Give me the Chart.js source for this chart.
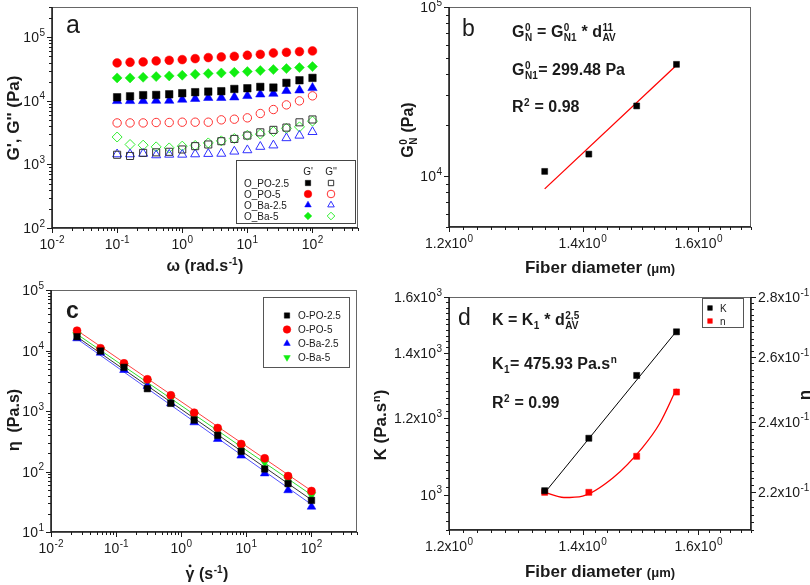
<!DOCTYPE html>
<html>
<head>
<meta charset="utf-8">
<title>Rheology of fiber suspensions</title>
<script src="https://cdn.jsdelivr.net/npm/chart.js@4.4.1/dist/chart.umd.min.js"></script>
<style>
  html, body { margin: 0; padding: 0; background: #fff; }
  #fig { position: relative; width: 810px; height: 585px; overflow: hidden; background: #fff; }
  #fig canvas { position: absolute; left: 0; top: 0; }
</style>
</head>
<body>
<div id="fig">
  <canvas id="panelA" width="810" height="585"></canvas>
  <canvas id="panelB" width="810" height="585"></canvas>
  <canvas id="panelC" width="810" height="585"></canvas>
  <canvas id="panelD" width="810" height="585"></canvas>
</div>
<script>
// ---- (a) frequency sweep, G' (filled) and G'' (open) ----
var omega = [0.1, 0.158, 0.251, 0.398, 0.631, 1, 1.58, 2.51, 3.98, 6.31, 10, 15.8, 25.1, 39.8, 63.1, 100];
var gStorePO25 = [11400, 11800, 12300, 12400, 12700, 13200, 13700, 14000, 14200, 15400, 15800, 16600, 16200, 19200, 21100, 23000];
var gStorePO5  = [39500, 40500, 41000, 42500, 43500, 44600, 46200, 48000, 49100, 50300, 52200, 54100, 56700, 58100, 59600, 61000];
var gStoreBa25 = [10000, 10000, 10000, 10100, 10100, 10500, 10800, 11200, 11200, 11400, 12000, 12700, 13000, 14400, 14700, 16000];
var gStoreBa5  = [23000, 23000, 23500, 24100, 24700, 25300, 26200, 26900, 27500, 28200, 28900, 30000, 31100, 32200, 33400, 34600];
var gLossPO25  = [1420, 1360, 1520, 1550, 1580, 1720, 1940, 2060, 2320, 2520, 2850, 3200, 3500, 3800, 4600, 5100];
var gLossPO5   = [4500, 4500, 4500, 4570, 4570, 4620, 4620, 4620, 5030, 5150, 5410, 6330, 7310, 8650, 10000, 12000];
var gLossBa25  = [1450, 1450, 1480, 1400, 1430, 1430, 1450, 1470, 1480, 1600, 1680, 1900, 2000, 2600, 2850, 3250];
var gLossBa5   = [2700, 2060, 2010, 1890, 1820, 1940, 1990, 2180, 2350, 2560, 2880, 3000, 3300, 3700, 3900, 4800];
var namesA = ['O_PO-2.5', 'O_PO-5', 'O_Ba-2.5', 'O_Ba-5'];

// ---- (b) plateau modulus vs fiber diameter ----
var fiberD = [1.34, 1.41, 1.49, 1.56];
var plateauG = [10660, 13490, 26000, 45800];
var plateauFitD = [1.34, 1.56];
var plateauFitG = [8400, 45300];

// ---- (c) viscosity curves ----
var shearRate = [0.0251, 0.0575, 0.132, 0.302, 0.692, 1.58, 3.63, 8.32, 19.1, 43.7, 100];
var etaPO25 = [16900, 9800, 5270, 2340, 1340, 710, 396, 215, 110, 63, 33.3];
var etaPO5  = [21300, 10900, 6140, 3340, 1820, 938, 523, 285, 165, 84, 47.6];
var etaBa25 = [15900, 9200, 4760, 2590, 1340, 650, 345, 183, 93, 49, 26.2];
var etaBa5  = [18000, 10200, 5550, 3050, 1620, 859, 467, 257, 142, 74, 41];
var etaFitRate = [0.0251, 100];
var etaFitPO25 = [16800, 34];
var etaFitPO5  = [21500, 48];
var etaFitBa25 = [15600, 28.5];
var etaFitBa5  = [18600, 41];
var namesC = ['O-PO-2.5', 'O-PO-5', 'O-Ba-2.5', 'O-Ba-5'];

// ---- (d) consistency K and flow index n ----
var consistK = [1010, 1144, 1328, 1473];
var flowN = [0.220, 0.220, 0.230, 0.249];
var kFitD = [1.34, 1.56];
var kFit = [1005, 1475];
var nFitD = [1.34, 1.37, 1.40, 1.45, 1.50, 1.53, 1.56];
var nFit = [0.2200, 0.2186, 0.2190, 0.2240, 0.2325, 0.2395, 0.2500];

// ---- tick values and labels ([base, superscript]) ----
var decadeTicks = [0.01, 0.1, 1, 10, 100];
var decadeLabels = [['10', '-2'], ['10', '-1'], ['10', '0'], ['10', '1'], ['10', '2']];
var modTicks = [100, 1000, 10000, 100000];
var modLabels = [['10', '2'], ['10', '3'], ['10', '4'], ['10', '5']];
var etaTicks = [10, 100, 1000, 10000, 100000];
var etaLabels = [['10', '1'], ['10', '2'], ['10', '3'], ['10', '4'], ['10', '5']];
var diamTicks = [1.2, 1.4, 1.6];
var diamLabels = [['1.2x10', '0'], ['1.4x10', '0'], ['1.6x10', '0']];
var plateauTicks = [10000, 100000];
var plateauLabels = [['10', '4'], ['10', '5']];
var kTicks = [1000, 1200, 1400, 1600];
var kLabels = [['10', '3'], ['1.2x10', '3'], ['1.4x10', '3'], ['1.6x10', '3']];
var nTicks = [0.22, 0.24, 0.26, 0.28];
var nLabels = [['2.2x10', '-1'], ['2.4x10', '-1'], ['2.6x10', '-1'], ['2.8x10', '-1']];

var FONT = 'Arial, "Liberation Sans", Helvetica, sans-serif';
var INK = '#1a1a1a';

function pts(xs, ys) {
  return xs.map(function (x, i) { return { x: x, y: ys[i] }; });
}

function markers(label, xs, ys, style, color, radius, open, rotation, axis) {
  return {
    label: label,
    data: pts(xs, ys),
    yAxisID: axis || 'y',
    showLine: false,
    pointStyle: style,
    pointRotation: rotation || 0,
    pointRadius: radius,
    pointBackgroundColor: open ? 'rgba(0,0,0,0)' : color,
    pointBorderColor: color,
    pointBorderWidth: open ? 1 : 0.5,
    backgroundColor: open ? 'rgba(0,0,0,0)' : color,
    borderColor: color,
    order: 1
  };
}

function fitLine(label, xs, ys, color, width, smooth, axis) {
  return {
    label: label,
    data: pts(xs, ys),
    yAxisID: axis || 'y',
    showLine: true,
    borderColor: color,
    borderWidth: width,
    pointRadius: 0,
    fill: false,
    tension: 0,
    cubicInterpolationMode: smooth ? 'monotone' : 'default',
    order: 2
  };
}

function logAxis(min, max, pos) {
  return { type: 'logarithmic', display: false, min: min, max: max, bounds: 'data', position: pos };
}

function logMinors(lo, hi) {
  var out = [];
  for (var e = Math.floor(Math.log10(lo)); e <= Math.ceil(Math.log10(hi)); e++) {
    for (var m = 2; m <= 9; m++) {
      var v = m * Math.pow(10, e);
      if (v >= lo * 0.999 && v <= hi * 1.001) out.push(v);
    }
  }
  return out;
}

function stepMinors(lo, hi, step) {
  var out = [];
  for (var k = Math.ceil(lo / step - 1e-6); k * step <= hi + 1e-9; k++) out.push(+(k * step).toFixed(6));
  return out;
}

// label with superscript, e.g. 10^-2
function supLabel(ctx, base, sup, x, y, align) {
  ctx.font = '14px ' + FONT;
  var wb = ctx.measureText(base).width;
  ctx.font = '10px ' + FONT;
  var ws = ctx.measureText(sup).width + 0.5;
  var sx = align === 'center' ? x - (wb + ws) / 2 : align === 'right' ? x - wb - ws : x;
  ctx.textAlign = 'left';
  ctx.textBaseline = 'alphabetic';
  ctx.fillStyle = INK;
  ctx.font = '14px ' + FONT;
  ctx.fillText(base, sx, y);
  ctx.font = '10px ' + FONT;
  ctx.fillText(sup, sx + wb + 0.5, y - 6.5);
}

// mixed text with stacked super/subscripts
function rich(ctx, x, y, parts, opt) {
  opt = opt || {};
  var size = opt.size || 16;
  var weight = opt.weight === undefined ? 'bold ' : opt.weight;
  var small = Math.round(size * 0.64);
  var f = function (s) { return weight + s + 'px ' + FONT; };
  var items = parts.map(function (p) {
    if (typeof p === 'string') p = { t: p };
    var w;
    if (p.t !== undefined) { ctx.font = f(p.size || size); w = ctx.measureText(p.t).width; }
    else if (p.dot) { ctx.font = f(size); w = ctx.measureText(p.dot).width; }
    else {
      ctx.font = f(small);
      w = Math.max(p.sup ? ctx.measureText(p.sup).width : 0, p.sub ? ctx.measureText(p.sub).width : 0) + 1;
    }
    return { p: p, w: w };
  });
  var total = items.reduce(function (s, it) { return s + it.w; }, 0);
  var cx = opt.align === 'center' ? x - total / 2 : x;
  ctx.textAlign = 'left';
  ctx.textBaseline = 'alphabetic';
  ctx.fillStyle = opt.color || INK;
  items.forEach(function (it) {
    var p = it.p;
    if (p.t !== undefined) { ctx.font = f(p.size || size); ctx.fillText(p.t, cx, y); }
    else if (p.dot) {
      ctx.font = f(size);
      ctx.fillText(p.dot, cx, y);
      ctx.beginPath();
      ctx.arc(cx + it.w * 0.5, y - size * 0.82, size * 0.09, 0, Math.PI * 2);
      ctx.fill();
    } else {
      ctx.font = f(small);
      if (p.sup) ctx.fillText(p.sup, cx + 0.5, y - size * 0.38);
      if (p.sub) ctx.fillText(p.sub, cx + 0.5, y + size * 0.28);
    }
    cx += it.w;
  });
}

function richUp(ctx, cx, cy, parts, opt) {
  ctx.save();
  ctx.translate(cx, cy);
  ctx.rotate(-Math.PI / 2);
  rich(ctx, 0, (opt.size || 16) * 0.36, parts, Object.assign({ align: 'center' }, opt));
  ctx.restore();
}

function drawMark(ctx, d, x, y, r) {
  var style = d.pointStyle, rot = d.pointRotation || 0;
  ctx.save();
  ctx.translate(x, y);
  ctx.rotate(rot * Math.PI / 180);
  ctx.beginPath();
  if (style === 'rect') { var h = r * Math.SQRT1_2; ctx.rect(-h, -h, 2 * h, 2 * h); }
  else if (style === 'circle') ctx.arc(0, 0, r, 0, Math.PI * 2);
  else if (style === 'triangle') {
    ctx.moveTo(0, -r); ctx.lineTo(0.866 * r, 0.5 * r); ctx.lineTo(-0.866 * r, 0.5 * r); ctx.closePath();
  } else if (style === 'rectRot') {
    ctx.moveTo(-r, 0); ctx.lineTo(0, -r); ctx.lineTo(r, 0); ctx.lineTo(0, r); ctx.closePath();
  }
  ctx.fillStyle = d.pointBackgroundColor;
  ctx.strokeStyle = d.pointBorderColor;
  ctx.lineWidth = d.pointBorderWidth;
  ctx.fill();
  ctx.stroke();
  ctx.restore();
}

function drawAxis(ctx, chart, ax) {
  var s = chart.scales[ax.scale], a = chart.chartArea;
  ctx.strokeStyle = INK;
  ctx.lineWidth = 1;
  function tick(v, len) {
    var p = Math.round(s.getPixelForValue(v)) + 0.5;
    ctx.beginPath();
    if (ax.side === 'bottom') { ctx.moveTo(p, a.bottom); ctx.lineTo(p, a.bottom + len); }
    else if (ax.side === 'left') { ctx.moveTo(a.left, p); ctx.lineTo(a.left - len, p); }
    else { ctx.moveTo(a.right, p); ctx.lineTo(a.right + len, p); }
    ctx.stroke();
  }
  ax.minor.forEach(function (v) { tick(v, 3); });
  ax.major.forEach(function (v) { tick(v, 5); });
  ctx.lineWidth = 1.5;
  ctx.beginPath();
  if (ax.side === 'bottom') { ctx.moveTo(a.left, a.bottom); ctx.lineTo(a.right, a.bottom); }
  else if (ax.side === 'left') { ctx.moveTo(a.left, a.top); ctx.lineTo(a.left, a.bottom); }
  else { ctx.moveTo(a.right, a.top); ctx.lineTo(a.right, a.bottom); }
  ctx.stroke();
  ax.major.forEach(function (v, i) {
    var p = s.getPixelForValue(v), lab = ax.labels[i];
    if (ax.side === 'bottom') supLabel(ctx, lab[0], lab[1], p, a.bottom + 21, 'center');
    else if (ax.side === 'left') supLabel(ctx, lab[0], lab[1], a.left - 7, p + 5, 'right');
    else supLabel(ctx, lab[0], lab[1], a.right + 7, p + 5, 'left');
  });
}

function decor(axes, extra) {
  return {
    id: 'decor',
    afterDraw: function (chart) {
      var ctx = chart.ctx, a = chart.chartArea;
      ctx.save();
      ctx.lineWidth = 1;
      ctx.strokeStyle = '#666';
      ctx.strokeRect(a.left + 0.5, a.top + 0.5, a.right - a.left - 1, a.bottom - a.top - 1);
      axes.forEach(function (ax) { drawAxis(ctx, chart, ax); });
      if (extra) extra(ctx, chart, a);
      ctx.restore();
    }
  };
}

function makeChart(id, area, datasets, scales, plugin) {
  return new Chart(document.getElementById(id), {
    type: 'scatter',
    data: { datasets: datasets },
    options: {
      responsive: false,
      animation: false,
      events: [],
      layout: { padding: { left: area.l, top: area.t, right: 810 - area.r, bottom: 585 - area.b } },
      plugins: { legend: { display: false }, tooltip: { enabled: false } },
      scales: scales
    },
    plugins: [plugin]
  });
}

// ---------- panel a ----------
makeChart('panelA', { l: 52, t: 7, r: 358, b: 228 }, [
  markers("O_PO-2.5 G'", omega, gStorePO25, 'rect', '#000000', 5.3),
  markers("O_PO-5 G'", omega, gStorePO5, 'circle', '#ff0000', 4.4),
  markers("O_Ba-2.5 G'", omega, gStoreBa25, 'triangle', '#0000ff', 5.4),
  markers("O_Ba-5 G'", omega, gStoreBa5, 'rectRot', '#11ee11', 5),
  markers("O_PO-2.5 G''", omega, gLossPO25, 'rect', '#333333', 5, true),
  markers("O_PO-5 G''", omega, gLossPO5, 'circle', '#ff3030', 4.2, true),
  markers("O_Ba-2.5 G''", omega, gLossBa25, 'triangle', '#3030ff', 5.2, true),
  markers("O_Ba-5 G''", omega, gLossBa5, 'rectRot', '#33ee33', 5, true)
], { x: logAxis(0.01, 500), y: logAxis(100, 300000) },
decor([
  { scale: 'x', side: 'bottom', major: decadeTicks, labels: decadeLabels, minor: logMinors(0.01, 500) },
  { scale: 'y', side: 'left', major: modTicks, labels: modLabels, minor: logMinors(100, 300000) }
], function (ctx, chart) {
  rich(ctx, 66, 33, ['a'], { size: 25, weight: '' });
  rich(ctx, 205, 271, ['\u03c9 (rad.s', { sup: '-1' }, ')'], { size: 16, align: 'center' });
  richUp(ctx, 13, 118, ["G', G'' (Pa)"], { size: 17 });
  // legend with G' / G'' columns
  var ds = chart.data.datasets;
  ctx.lineWidth = 1;
  ctx.strokeStyle = '#444';
  ctx.strokeRect(236.5, 160.5, 119, 63);
  ctx.fillStyle = INK;
  ctx.font = '10px ' + FONT;
  ctx.textAlign = 'center';
  ctx.fillText("G'", 308, 175);
  ctx.fillText("G''", 331, 175);
  ctx.textAlign = 'left';
  namesA.forEach(function (name, i) {
    var y = 183 + i * 11;
    ctx.fillStyle = INK;
    ctx.font = '10px ' + FONT;
    ctx.fillText(name, 244, y + 3.5);
    drawMark(ctx, ds[i], 308, y, 3.8);
    drawMark(ctx, ds[i + 4], 331, y, 3.8);
  });
}));

// ---------- panel b ----------
makeChart('panelB', { l: 449, t: 7, r: 751, b: 227 }, [
  markers('G0N', fiberD, plateauG, 'rect', '#000000', 4.2),
  fitLine('fit', plateauFitD, plateauFitG, '#ff0000', 1.3)
], { x: logAxis(1.2, 1.7), y: logAxis(5000, 100000) },
decor([
  { scale: 'x', side: 'bottom', major: diamTicks, labels: diamLabels, minor: stepMinors(1.2, 1.7, 0.02) },
  { scale: 'y', side: 'left', major: plateauTicks, labels: plateauLabels, minor: logMinors(5000, 100000) }
], function (ctx) {
  rich(ctx, 462, 36, ['b'], { size: 23, weight: '' });
  rich(ctx, 512, 37, ['G', { sup: '0', sub: 'N' }, ' = G', { sup: '0', sub: 'N1' }, ' * d', { sup: '11', sub: 'AV' }], { size: 16 });
  rich(ctx, 512, 75, ['G', { sup: '0', sub: 'N1' }, '= 299.48 Pa'], { size: 16 });
  rich(ctx, 512, 112, ['R', { sup: '2' }, ' = 0.98'], { size: 16 });
  richUp(ctx, 407, 130, ['G', { sup: '0', sub: 'N' }, ' (Pa)'], { size: 16 });
  rich(ctx, 600, 273, ['Fiber diameter ', { t: '(\u03bcm)', size: 13 }], { size: 17, align: 'center' });
}));

// ---------- panel c ----------
makeChart('panelC', { l: 51, t: 290, r: 357, b: 532 }, [
  markers('O-PO-2.5', shearRate, etaPO25, 'rect', '#000000', 4.6),
  markers('O-PO-5', shearRate, etaPO5, 'circle', '#ff0000', 4),
  markers('O-Ba-2.5', shearRate, etaBa25, 'triangle', '#0000ff', 5),
  markers('O-Ba-5', shearRate, etaBa5, 'triangle', '#11ee11', 5, false, 180),
  fitLine('fit PO-2.5', etaFitRate, etaFitPO25, '#333333', 1),
  fitLine('fit PO-5', etaFitRate, etaFitPO5, '#ff4040', 1),
  fitLine('fit Ba-2.5', etaFitRate, etaFitBa25, '#5050ff', 1),
  fitLine('fit Ba-5', etaFitRate, etaFitBa5, '#30e030', 1)
], { x: logAxis(0.01, 500), y: logAxis(10, 100000) },
decor([
  { scale: 'x', side: 'bottom', major: decadeTicks, labels: decadeLabels, minor: logMinors(0.01, 500) },
  { scale: 'y', side: 'left', major: etaTicks, labels: etaLabels, minor: logMinors(10, 100000) }
], function (ctx, chart) {
  rich(ctx, 66, 318, ['c'], { size: 23 });
  rich(ctx, 207, 579, [{ dot: '\u03b3' }, ' (s', { sup: '-1' }, ')'], { size: 16, align: 'center' });
  richUp(ctx, 13, 420, ['\u03b7  (Pa.s)'], { size: 16 });
  var ds = chart.data.datasets;
  ctx.lineWidth = 1;
  ctx.strokeStyle = '#555';
  ctx.strokeRect(263.5, 297.5, 86, 70);
  namesC.forEach(function (name, i) {
    var y = 315.5 + i * 14;
    drawMark(ctx, ds[i], 287, y, 3.8);
    ctx.fillStyle = INK;
    ctx.font = '10px ' + FONT;
    ctx.textAlign = 'left';
    ctx.fillText(name, 298, y + 3.5);
  });
}));

// ---------- panel d ----------
makeChart('panelD', { l: 449, t: 297, r: 751, b: 530 }, [
  markers('K', fiberD, consistK, 'rect', '#000000', 4.3),
  markers('n', fiberD, flowN, 'rect', '#ff0000', 4.3, false, 0, 'y1'),
  fitLine('K fit', kFitD, kFit, '#000000', 1),
  fitLine('n fit', nFitD, nFit, '#ff0000', 1.3, true, 'y1')
], { x: logAxis(1.2, 1.7), y: logAxis(920, 1600), y1: logAxis(0.21, 0.28, 'right') },
decor([
  { scale: 'x', side: 'bottom', major: diamTicks, labels: diamLabels, minor: stepMinors(1.2, 1.7, 0.02) },
  { scale: 'y', side: 'left', major: kTicks, labels: kLabels, minor: stepMinors(920, 1600, 20) },
  { scale: 'y1', side: 'right', major: nTicks, labels: nLabels, minor: stepMinors(0.21, 0.28, 0.002) }
], function (ctx, chart) {
  rich(ctx, 458, 325, ['d'], { size: 23, weight: '' });
  rich(ctx, 492, 325, ['K = K', { sub: '1' }, ' * d', { sup: '2,5', sub: 'AV' }], { size: 16 });
  rich(ctx, 492, 369, ['K', { sub: '1' }, '= 475.93 Pa.s', { sup: 'n' }], { size: 16 });
  rich(ctx, 492, 408, ['R', { sup: '2' }, ' = 0.99'], { size: 16 });
  richUp(ctx, 380, 425, ['K (Pa.s', { sup: 'n' }, ')'], { size: 17 });
  richUp(ctx, 804, 395, ['n'], { size: 17 });
  rich(ctx, 600, 577, ['Fiber diameter ', { t: '(\u03bcm)', size: 13 }], { size: 17, align: 'center' });
  var ds = chart.data.datasets;
  ctx.lineWidth = 1;
  ctx.strokeStyle = '#555';
  ctx.strokeRect(702.5, 298.5, 41, 29);
  ['K', 'n'].forEach(function (name, i) {
    var y = 308 + i * 13;
    drawMark(ctx, ds[i], 710, y, 3.3);
    ctx.fillStyle = INK;
    ctx.font = '10px ' + FONT;
    ctx.textAlign = 'left';
    ctx.fillText(name, 720, y + 3.5);
  });
}));
</script>
</body>
</html>
